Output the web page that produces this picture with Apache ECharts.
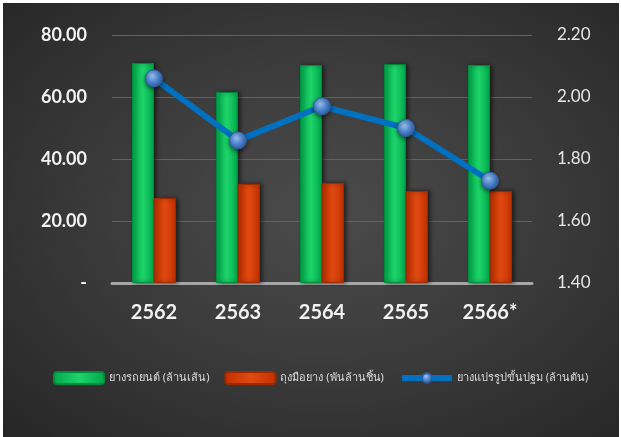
<!DOCTYPE html>
<html>
<head>
<meta charset="utf-8">
<script src="https://cdn.jsdelivr.net/npm/echarts@6/dist/echarts.min.js"></script>
<style>
  body { margin: 0; background: #fff; }
  #bg {
    position: absolute; left: 3px; top: 3px; width: 616px; height: 434px;
    background: radial-gradient(ellipse at 52% 48%, #4b4b4b 0%, #3c3c3c 45%, #262626 100%);
  }
  #chart { position: absolute; left: 0; top: 0; width: 621px; height: 437px; }
</style>
</head>
<body>
<div id="bg"></div>
<div id="chart"></div>
<script>
  // ข้อมูล
  var years = ['2562', '2563', '2564', '2565', '2566*'];
  var tyres = [71.0, 61.6, 70.3, 70.6, 70.3];
  var gloves = [27.4, 32.0, 32.3, 29.7, 29.7];
  var processed = [2.06, 1.86, 1.97, 1.90, 1.73];
  var names = ['ยางรถยนต์ (ล้านเส้น)', 'ถุงมือยาง (พันล้านชิ้น)', 'ยางแปรรูปขั้นปฐม (ล้านตัน)'];

  var myChart = echarts.init(document.getElementById('chart'));

  function hGrad(edge, mid) {
    return new echarts.graphic.LinearGradient(0, 0, 1, 0, [
      { offset: 0, color: edge },
      { offset: 0.5, color: mid },
      { offset: 1, color: edge }
    ]);
  }

  var ballColor = new echarts.graphic.RadialGradient(0.4, 0.35, 0.7, [
    { offset: 0, color: '#9cc3f0' },
    { offset: 0.5, color: '#4f86cf' },
    { offset: 1, color: '#2a5aa0' }
  ]);

  var option = {
    backgroundColor: 'transparent',
    textStyle: { fontFamily: 'Lato, "Noto Sans", sans-serif' },
    legend: {
      left: 48,
      top: 366,
      width: 580,
      itemWidth: 50,
      itemHeight: 12,
      itemGap: 15,
      textStyle: { color: '#d9d9d9', fontSize: 11, fontFamily: '"Noto Sans", "DejaVu Sans", sans-serif' },
      data: [
        { name: names[0] },
        { name: names[1] },
        { name: names[2], lineStyle: { width: 6, color: '#0070c0' } }
      ]
    },
    grid: { left: 112, right: 89, top: 35, bottom: 154 },
    xAxis: {
      type: 'category',
      data: years,
      axisLine: { lineStyle: { color: '#a6a6a6', width: 3 } },
      axisTick: { show: false },
      axisLabel: { color: '#f2f2f2', fontSize: 20, fontWeight: 'bold', margin: 20 }
    },
    yAxis: [
      {
        type: 'value',
        min: 0, max: 80, interval: 20,
        axisLine: { show: false },
        axisTick: { show: false },
        splitLine: { lineStyle: { color: '#626262', width: 1 } },
        axisLabel: {
          color: '#f2f2f2', fontSize: 18, fontWeight: 'bold', margin: 25,
          formatter: function (v) { return v === 0 ? '-' : v.toFixed(2); }
        }
      },
      {
        type: 'value',
        min: 1.4, max: 2.2, interval: 0.2,
        axisLine: { show: false },
        axisTick: { show: false },
        splitLine: { show: false },
        axisLabel: {
          color: '#e6e6e6', fontSize: 17, margin: 25,
          formatter: function (v) { return v.toFixed(2); }
        }
      }
    ],
    series: [
      {
        name: names[0],
        type: 'bar',
        barWidth: 22,
        barGap: '0%',
        data: tyres,
        itemStyle: {
          color: hGrad('#00a84a', '#1ed46a'),
          borderColor: '#008a3c', borderWidth: 1,
          shadowColor: 'rgba(0,0,0,0.5)', shadowBlur: 4, shadowOffsetX: 2
        }
      },
      {
        name: names[1],
        type: 'bar',
        barWidth: 22,
        data: gloves,
        itemStyle: {
          color: hGrad('#c23000', '#e04a10'),
          borderColor: '#a02800', borderWidth: 1,
          shadowColor: 'rgba(0,0,0,0.5)', shadowBlur: 4, shadowOffsetX: 2
        }
      },
      {
        name: names[2],
        type: 'line',
        yAxisIndex: 1,
        data: processed,
        symbol: 'circle',
        symbolSize: 17,
        lineStyle: { color: '#0070c0', width: 6 },
        itemStyle: {
          color: ballColor,
          borderColor: '#2f5f9f', borderWidth: 1,
          shadowColor: 'rgba(0,0,0,0.5)', shadowBlur: 4, shadowOffsetY: 2
        }
      }
    ]
  };
  myChart.setOption(option);
</script>
</body>
</html>
